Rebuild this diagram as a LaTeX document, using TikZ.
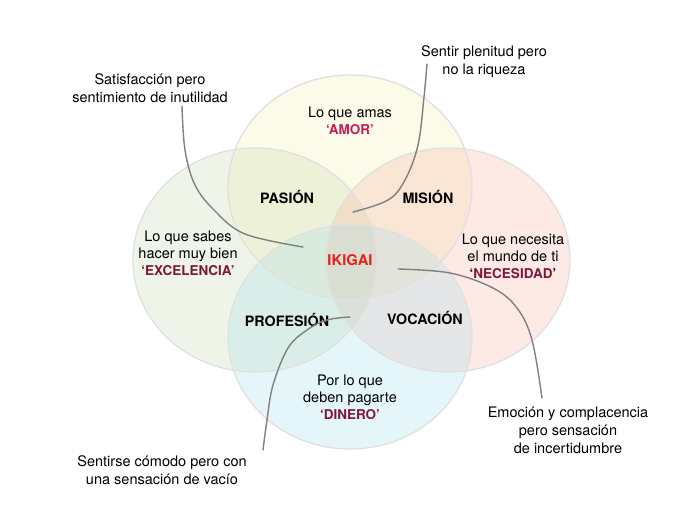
\documentclass[tikz,border=0pt]{standalone}
\usepackage{fontspec}
\setmainfont{TeX Gyre Heros}
\definecolor{cyel}{RGB}{245,238,172}
\definecolor{cgrn}{RGB}{198,218,172}
\definecolor{cpnk}{RGB}{248,178,162}
\definecolor{ccya}{RGB}{162,222,238}
\definecolor{amorc}{RGB}{196,28,88}
\definecolor{maroonc}{RGB}{125,22,58}
\definecolor{ikired}{RGB}{228,32,28}
\definecolor{linec}{RGB}{128,128,128}
\begin{document}
\begin{tikzpicture}[x=1pt,y=-1pt,
  circfill/.style={fill opacity=0.27},
  circline/.style={draw=black!12, line width=1.3pt},
  txt/.style={align=center, inner sep=0pt, font=\fontsize{14.5}{18}\selectfont},
  intxt/.style={align=center, inner sep=0pt, font=\fontsize{14.5}{17}\selectfont},
  lbl/.style={inner sep=0pt, font=\fontsize{14.3}{17}\selectfont\bfseries},
  conn/.style={draw=linec, line width=1.4pt, line cap=round}]
\useasboundingbox (0,0) rectangle (700,525);
\fill[white] (0,0) rectangle (700,525);
% circle centres
\coordinate (ctop) at (350,187);
\coordinate (cleft) at (255,260);
\coordinate (cright) at (448,260);
\coordinate (cbot) at (350,337);
\fill[cyel, circfill] (ctop) ellipse [x radius=122pt, y radius=112pt];
\fill[cgrn, circfill] (cleft) ellipse [x radius=122pt, y radius=112pt];
\fill[cpnk, circfill] (cright) ellipse [x radius=122pt, y radius=112pt];
\fill[ccya, circfill] (cbot) ellipse [x radius=122pt, y radius=112pt];
\draw[circline] (ctop) ellipse [x radius=122pt, y radius=112pt];
\draw[circline] (cleft) ellipse [x radius=122pt, y radius=112pt];
\draw[circline] (cright) ellipse [x radius=122pt, y radius=112pt];
\draw[circline] (cbot) ellipse [x radius=122pt, y radius=112pt];

% texts inside
\node[intxt] (amor) at (350,121) {Lo que amas\\{\bfseries\fontsize{13.5}{17}\selectfont\color{amorc}‘AMOR’}};
\node[intxt] (excel) at (188,253) {Lo que sabes\\hacer muy bien\\{\bfseries\fontsize{13.5}{17}\selectfont\color{maroonc}‘EXCELENCIA’}};
\node[intxt] (neces) at (513,256) {Lo que necesita\\el mundo de ti\\{\bfseries\fontsize{13.5}{17}\selectfont ‘{\color{maroonc}NECESIDAD}’}};
\node[intxt] (diner) at (350,397) {Por lo que\\deben pagarte\\{\bfseries\fontsize{13.5}{17}\selectfont\color{maroonc}‘DINERO’}};

\node[lbl] (pasion) at (287,197) {PASIÓN};
\node[lbl] (mision) at (428,197) {MISIÓN};
\node[lbl] (profesion) at (287,320) {PROFESIÓN};
\node[lbl] (vocacion) at (425,318) {VOCACIÓN};
\node[lbl, text=ikired, font=\fontsize{14.8}{17}\selectfont\bfseries] (ikigai) at (350,260) {IKIGAI};

% outside annotations
\node[txt] (n1) at (150,88) {Satisfacción pero\\sentimiento de inutilidad};
\node[txt] (n2) at (484,62) {Sentir plenitud pero\\no la riqueza};
\node[txt] (n3) at (568,430) {Emoción y complacencia\\pero sensación\\de incertidumbre};
\node[txt] (n4) at (162,470) {Sentirse cómodo pero con\\una sensación de vacío};

% connector endpoints
\coordinate (e1) at (303,247);
\coordinate (e2) at (353,212);
\coordinate (e3) at (398,269);
\coordinate (e4) at (350,317);
\coordinate (s1) at (182,106);
\coordinate (s2) at (427,64);
\coordinate (s3) at (542,398);
\coordinate (s4) at (263,450);

\draw[conn] plot[smooth, tension=0.6] coordinates {(s1) (185,150) (195,185) (215,211) (245,234) (e1)};
\draw[conn] plot[smooth, tension=0.6] coordinates {(s2) (424,97) (418,145) (405,180) (388,200) (e2)};
\draw[conn] plot[smooth, tension=0.6] coordinates {(e3) (450,273) (493,288) (517,308) (532,340) (s3)};
\draw[conn] plot[smooth, tension=0.6] coordinates {(e4) (327,320) (307,330) (288,348) (273,385) (267,420) (s4)};
\end{tikzpicture}
\end{document}
